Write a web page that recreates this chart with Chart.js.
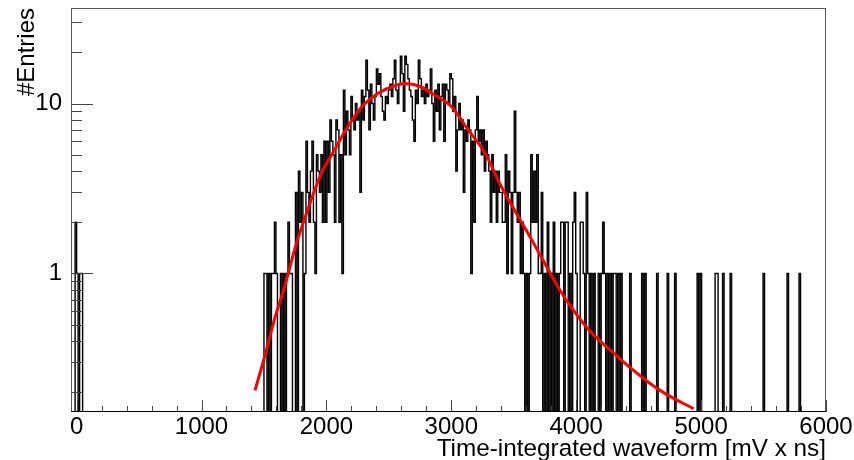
<!DOCTYPE html>
<html>
<head>
<meta charset="utf-8">
<script src="https://cdn.jsdelivr.net/npm/chart.js@4.4.0/dist/chart.umd.min.js"></script>
<style>
  html, body { margin: 0; padding: 0; background: #fff; }
  canvas { display: block; }
</style>
</head>
<body>
<canvas id="chart" width="854" height="460"></canvas>
<script>
// Histogram, 12-unit bins, counts
const binWidth = 12;
const pedestalStart = -12;
const pedestalCounts = [2, 1, 0, 1, 1];

const peakStart = 1500;
const peakCounts = [
  1, 1, 0, 1, 0, 1, 1, 2, 1, 0,
  0, 1, 0, 1, 0, 1, 2, 1, 1, 0,
  0, 3, 0, 4, 2, 3, 0, 1, 6, 3,
  2, 4, 6, 2, 1, 5, 4, 3, 5, 2,
  6, 2, 6, 3, 8, 6, 5, 2, 8, 7,
  2, 5, 1, 12, 5, 9, 7, 5, 11, 8,
  7, 10, 8, 9, 3, 12, 8, 11, 18, 12,
  7, 13, 10, 8, 11, 16, 13, 15, 11, 9,
  8, 11, 10, 12, 13, 11, 14, 18, 12, 10,
  13, 19, 15, 9, 19, 17, 14, 12, 11, 8,
  6, 12, 10, 18, 14, 11, 12, 10, 13, 11,
  12, 16, 10, 6, 12, 9, 13, 7, 11, 13,
  6, 13, 12, 10, 15, 14, 9, 11, 4, 7,
  10, 7, 8, 3, 7, 6, 8, 7, 1, 6,
  2, 7, 11, 6, 7, 5, 7, 4, 6, 5,
  4, 2, 5, 3, 4, 2, 4, 3, 3, 2,
  2, 5, 1, 4, 3, 1, 3, 9, 3, 2,
  3, 1, 2, 1, 0, 1, 0, 1, 5, 2,
  4, 2, 5, 1, 1, 3, 0, 1, 0, 2,
  0, 1, 0, 2, 0, 1, 0, 1, 2, 2,
  0, 2, 2, 0, 1, 0, 2, 3, 1, 0,
  0, 2, 2, 1, 0, 3, 1, 0, 1, 0,
  1, 0, 0, 1, 0, 1, 2, 1, 0, 1,
  0, 1, 0, 1, 1, 0, 1, 0, 1, 0
];

// isolated single-entry bins in the tail (bin low edges)
const tailSingles = [4428, 4524, 4548, 4644, 4728, 4788, 4968, 4992, 5112, 5124, 5172, 5232, 5496, 5688, 5784];

// fit curve
const fitX = [1428, 1508, 1588, 1668, 1750, 1830, 1960, 2060, 2150, 2280, 2415, 2530, 2630, 2750, 2870, 3000, 3135, 3270, 3400, 3500, 3590, 3720, 3855, 3990, 4120, 4310, 4440, 4575, 4710, 4940];
const fitY = [0.205, 0.33, 0.55, 0.85, 1.42, 2.15, 3.9, 5.25, 6.9, 9.5, 11.5, 12.6, 13.1, 12.6, 11.2, 9.6, 7, 5.1, 3.25, 2.4, 1.85, 1.25, 0.83, 0.59, 0.45, 0.335, 0.276, 0.23, 0.197, 0.16];

const xTickLabels = [0, 1000, 2000, 3000, 4000, 5000, 6000];
const yTickLabels = [1, 10];
const yMinorTicks = [0.2, 0.3, 0.4, 0.5, 0.6, 0.7, 0.8, 0.9, 2, 3, 4, 5, 6, 7, 8, 9, 20, 30];

// Build stepped outline; empty bins go below the frame and get clipped
const counts = {};
pedestalCounts.forEach((c, i) => { counts[pedestalStart + i * binWidth] = c; });
peakCounts.forEach((c, i) => { counts[peakStart + i * binWidth] = c; });
tailSingles.forEach(x => { counts[x] = 1; });

const histPoints = [];
for (let x = -48; x <= 5808; x += binWidth) {
  const c = counts[x] || 0;
  histPoints.push({ x: x, y: c > 0 ? c : 0.01 });
}
const fitPoints = fitX.map((x, i) => ({ x: x, y: fitY[i] }));

// ROOT style frame with inward ticks
const rootFrame = {
  id: 'rootFrame',
  afterDatasetsDraw(chart) {
    const { ctx, chartArea: a, scales } = chart;
    const x = scales.x, y = scales.y;
    ctx.save();
    ctx.lineWidth = 1;
    ctx.strokeStyle = '#444';
    ctx.beginPath();
    for (let v = 0; v <= 6000; v += 200) {
      const px = Math.round(x.getPixelForValue(v)) + 0.5;
      const len = v % 1000 === 0 ? 12 : 6;
      ctx.moveTo(px, a.bottom);
      ctx.lineTo(px, a.bottom - len);
    }
    yTickLabels.forEach(v => {
      const py = Math.round(y.getPixelForValue(v)) + 0.5;
      ctx.moveTo(a.left, py);
      ctx.lineTo(a.left + 22, py);
    });
    yMinorTicks.forEach(v => {
      const py = Math.round(y.getPixelForValue(v)) + 0.5;
      ctx.moveTo(a.left, py);
      ctx.lineTo(a.left + 11, py);
    });
    ctx.stroke();
    ctx.strokeStyle = '#555';
    ctx.strokeRect(a.left + 0.5, a.top + 0.5, a.right - a.left - 1, a.bottom - a.top - 1);
    ctx.strokeStyle = '#000';
    ctx.beginPath();
    ctx.moveTo(a.left, a.bottom - 0.5);
    ctx.lineTo(a.right, a.bottom - 0.5);
    ctx.stroke();
    ctx.restore();
  }
};

Chart.defaults.font.family = '"Liberation Sans", Arial, sans-serif';
Chart.defaults.font.size = 24;
Chart.defaults.color = '#000';

new Chart(document.getElementById('chart'), {
  type: 'line',
  data: {
    datasets: [
      {
        label: 'fit',
        data: fitPoints,
        borderColor: '#ff0000',
        borderWidth: 3,
        pointRadius: 0,
        cubicInterpolationMode: 'monotone'
      },
      {
        label: 'histogram',
        data: histPoints,
        borderColor: '#000',
        borderWidth: 1.4,
        pointRadius: 0,
        stepped: 'before'
      }
    ]
  },
  options: {
    responsive: false,
    animation: false,
    layout: { padding: { left: 0, top: 8, right: 28, bottom: 0 } },
    plugins: { legend: { display: false }, tooltip: { enabled: false } },
    scales: {
      x: {
        type: 'linear',
        min: -45,
        max: 6000,
        grid: { display: false, drawTicks: false },
        border: { display: false },
        afterBuildTicks: s => { s.ticks = xTickLabels.map(v => ({ value: v })); },
        afterFit: s => { s.height = 48; s.paddingLeft = 0; s.paddingRight = 0; },
        ticks: { padding: 1, maxRotation: 0, autoSkip: false, callback: v => String(v) },
        title: {
          display: true,
          text: 'Time-integrated waveform [mV x ns]',
          align: 'end',
          font: { size: 24.3, lineHeight: 1 },
          padding: { top: 0, bottom: -1 }
        }
      },
      y: {
        type: 'logarithmic',
        min: 0.153,
        max: 36.5,
        grid: { display: false, drawTicks: false },
        border: { display: false },
        afterBuildTicks: s => { s.ticks = yTickLabels.map(v => ({ value: v })); },
        afterFit: s => { s.width = 71; s.paddingTop = 0; s.paddingBottom = 0; },
        ticks: { padding: 9, autoSkip: false, callback: v => String(v) },
        title: {
          display: true,
          text: '#Entries',
          align: 'end',
          padding: { top: 13, bottom: 0 }
        }
      }
    }
  },
  plugins: [rootFrame]
});
</script>
</body>
</html>
